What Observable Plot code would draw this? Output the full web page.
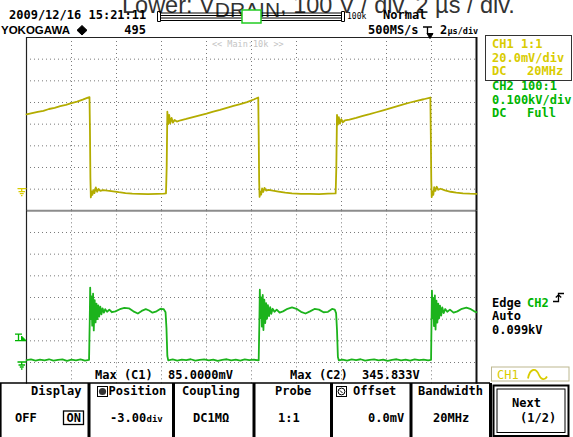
<!DOCTYPE html>
<html><head><meta charset="utf-8">
<script src="https://cdn.jsdelivr.net/npm/d3@7"></script>
<script src="https://cdn.jsdelivr.net/npm/@observablehq/plot@0.6"></script>
<style>
html,body{margin:0;padding:0;background:#fff;}
#wrap{position:relative;width:573px;height:437px;overflow:hidden;background:#fff;}
#wrap svg{position:absolute;left:0;top:0;overflow:visible;}
</style></head><body><div id="wrap"></div>
<script>
// ---------------- data ----------------
const timeGridUs = [2, 4, 6, 8, 10, 12, 14, 16, 18];
const ch1GridMv = [0, 20, 40, 60, 80, 100, 120];
const ch2GridV = [0, 100, 200, 300, 400, 500, 600];
const ch1GroundMv = 0;
const ch2GroundV = 0;
const trigLevelV = 99;

// CH1 (upper trace): [time µs, mV]
const ch1Trace = [
  [0.00,69.0],[0.25,70.2],[0.50,71.4],[0.75,72.3],[1.00,74.0],[1.25,75.1],[1.50,76.6],[1.75,77.8],[2.00,79.5],[2.25,80.8],[2.50,82.6],[2.70,84.2],[2.80,85.0],
  [2.82,55.0],[2.84,10.0],[2.86,-7.6],[2.89,-2.0],[2.93,-5.2],[2.97,-0.8],[3.02,-3.6],[3.08,1.6],[3.14,-2.4],[3.20,0.2],[3.28,-1.6],[3.40,-0.8],[3.60,-1.4],[3.85,-2.0],[4.10,-2.8],[4.40,-3.6],[4.70,-4.2],[5.00,-4.4],[5.40,-4.6],[5.80,-4.3],[6.10,-4.1],[6.20,-3.9],
  [6.23,20.0],[6.26,71.5],[6.30,60.0],[6.34,68.5],[6.39,60.8],[6.45,65.8],[6.51,61.4],[6.58,63.8],[6.68,62.4],[6.85,63.6],[7.10,64.8],[7.40,66.6],[7.70,68.2],[8.00,69.8],[8.30,71.6],[8.60,73.2],[8.90,75.0],[9.20,76.8],[9.50,78.6],[9.80,80.4],[10.10,82.8],[10.30,84.6],
  [10.32,50.0],[10.34,8.0],[10.36,-7.2],[10.39,-2.2],[10.43,-5.0],[10.47,0.6],[10.52,-2.6],[10.58,1.2],[10.65,-1.4],[10.75,-0.6],[10.95,-1.4],[11.20,-2.2],[11.50,-3.2],[11.80,-3.8],[12.20,-4.3],[12.60,-4.4],[13.00,-4.5],[13.40,-4.2],[13.74,-3.9],
  [13.77,20.0],[13.80,68.5],[13.84,59.5],[13.88,66.5],[13.93,60.5],[13.99,64.6],[14.06,61.8],[14.15,63.4],[14.35,64.2],[14.65,65.8],[14.95,67.6],[15.25,69.2],[15.55,71.0],[15.85,72.8],[16.15,74.6],[16.45,76.4],[16.75,78.2],[17.05,80.0],[17.35,81.6],[17.65,83.0],[17.95,84.6],
  [17.97,50.0],[17.99,8.0],[18.01,-7.4],[18.04,-2.0],[18.08,-5.2],[18.12,1.8],[18.17,-1.6],[18.23,2.2],[18.30,-0.6],[18.40,0.4],[18.60,-1.2],[18.85,-2.4],[19.10,-3.2],[19.40,-3.8],[19.70,-4.2],[20.00,-4.4]
];

// CH2 (lower trace, V_DRAIN): [time µs, V]
const ch2Trace = [
  [0.00,11],[0.20,14],[0.40,9],[0.60,13],[0.80,10],[1.00,15],[1.20,9],[1.40,12],[1.60,14],[1.80,8],[2.00,13],[2.20,10],[2.40,14],[2.60,9],[2.78,12],
  [2.81,190],[2.83,345.8],[2.86,200],[2.89,305],[2.92,170],[2.96,318],[2.99,148],[3.03,288],[3.07,185],[3.11,272],[3.15,200],[3.19,264],[3.23,212],[3.28,258],[3.33,222],[3.38,250],[3.44,230],[3.50,246],[3.58,234],[3.68,244],[3.80,232],[3.95,236],[4.15,246],[4.35,252],[4.55,250],[4.75,236],[4.95,226],[5.12,238],[5.30,246],[5.45,240],[5.60,230],[5.78,236],[5.96,248],[6.10,246],[6.18,232],
  [6.22,160],[6.26,30],[6.30,10],
  [6.50,14],[6.70,9],[6.90,13],[7.10,11],[7.30,15],[7.50,9],[7.70,12],[7.90,14],[8.10,10],[8.30,13],[8.50,8],[8.70,12],[8.90,15],[9.10,10],[9.30,13],[9.50,9],[9.70,14],[9.90,11],[10.10,13],[10.32,10],
  [10.35,185],[10.37,336],[10.40,205],[10.43,300],[10.46,166],[10.50,312],[10.53,150],[10.57,290],[10.61,182],[10.65,274],[10.69,202],[10.73,265],[10.78,214],[10.83,256],[10.88,225],[10.94,248],[11.02,234],[11.12,244],[11.25,230],[11.40,236],[11.60,248],[11.80,254],[12.00,248],[12.20,234],[12.40,226],[12.60,236],[12.80,247],[13.00,244],[13.20,232],[13.40,234],[13.58,247],[13.70,244],[13.76,228],
  [13.80,150],[13.84,25],[13.88,10],
  [14.05,13],[14.25,9],[14.45,14],[14.65,11],[14.85,15],[15.05,9],[15.25,12],[15.45,14],[15.65,10],[15.85,13],[16.05,8],[16.25,12],[16.45,15],[16.65,10],[16.85,13],[17.05,9],[17.25,14],[17.45,11],[17.65,13],[17.85,10],[17.98,12],
  [18.00,180],[18.02,332],[18.05,204],[18.08,298],[18.11,168],[18.15,310],[18.18,152],[18.22,286],[18.26,184],[18.30,272],[18.34,204],[18.38,262],[18.43,216],[18.48,254],[18.54,228],[18.61,247],[18.70,234],[18.82,244],[18.98,230],[19.15,236],[19.35,248],[19.55,253],[19.75,246],[19.90,236],[20.00,232]
];

// texts
const titleMain = "Lower: V";
const titleSub = "DRAIN";
const titleRest = ", 100 V / div, 2 µs / div.";
const headerDate = "2009/12/16 15:21:11";
const headerBrand = "YOKOGAWA";
const headerCount = "495";
const headerMode = "Normal";
const headerRate = "500MS/s";
const headerTdiv = ["2", "µs/div"];
const headerRecord = "100k";
const zoomLabel = "<< Main:10k >>";
const ch1Info = ["CH1 1:1", "20.0mV/div", "DC", "20MHz"];
const ch2Info = ["CH2 100:1", "0.100kV/div", "DC", "Full"];
const trigInfo = ["Edge", "CH2", "Auto", "0.099kV"];
const measure = ["Max (C1)", "85.0000mV", "Max (C2)", "345.833V"];
const menuLabels = ["Display", "Position", "Coupling", "Probe", "Offset", "Bandwidth"];
const menuValues = ["OFF", "ON", "-3.00", "div", "DC1MΩ", "1:1", "0.0mV", "20MHz"];
const nextLabel = ["Next", "(1/2)"];

// ---------------- layout ----------------
const W = 573, H = 437, L = 26, R = 476, T = 37, MID = 210.33, B = 383.67;
const YEL_TR = "#b3ac00", GRN_TR = "#1cb31c", YEL_TX = "#d9cc00", GRN_TX = "#00b400";
const MONO = "'DejaVu Sans Mono', monospace";
const SANS = "'Liberation Sans', Arial, sans-serif";
const gridStyle = {stroke: "#7a7a7a", strokeDasharray: "1,3", strokeWidth: 1};

const wrap = document.getElementById("wrap");

const topPlot = Plot.plot({
  width: W, height: H,
  marginLeft: L, marginRight: W - R, marginTop: T, marginBottom: H - MID,
  x: {domain: [0, 20], axis: null},
  y: {domain: [-20, 140], axis: null},
  style: {background: "transparent", overflow: "visible"},
  marks: [
    Plot.ruleX(timeGridUs, gridStyle),
    Plot.ruleY(ch1GridMv, gridStyle),
    Plot.ruleY([-20], {stroke: "#8c8c8c", strokeWidth: 2}),
    Plot.ruleY([140], {stroke: "#222", strokeWidth: 1}),
    Plot.ruleX([0], {stroke: "#222", strokeWidth: 1.2}),
    Plot.ruleX([20], {stroke: "#111", strokeWidth: 2}),
    Plot.line(ch1Trace, {x: d => d[0], y: d => d[1], stroke: YEL_TR, strokeWidth: 1.8})
  ]
});
const botPlot = Plot.plot({
  width: W, height: H,
  marginLeft: L, marginRight: W - R, marginTop: MID, marginBottom: H - B,
  x: {domain: [0, 20], axis: null},
  y: {domain: [-100, 700], axis: null},
  style: {background: "transparent", overflow: "visible"},
  marks: [
    Plot.ruleX(timeGridUs, gridStyle),
    Plot.ruleY(ch2GridV, gridStyle),
    Plot.ruleX([0], {stroke: "#222", strokeWidth: 1.2}),
    Plot.ruleX([20], {stroke: "#111", strokeWidth: 2}),
    Plot.line(ch2Trace, {x: d => d[0], y: d => d[1], stroke: GRN_TR, strokeWidth: 1.8})
  ]
});
wrap.appendChild(topPlot);
wrap.appendChild(botPlot);

// markers anchored on the scales
const y1g = topPlot.scale("y").apply(ch1GroundMv);
const y2g = botPlot.scale("y").apply(ch2GroundV);
const y2t = botPlot.scale("y").apply(trigLevelV);

const ov = d3.select(wrap).append("svg").attr("width", W).attr("height", H);
function txt(x, y, s, o = {}) {
  return ov.append("text").attr("x", x).attr("y", y)
    .attr("font-family", o.ff || MONO).attr("font-size", o.fs || 12)
    .attr("font-weight", o.fw || "bold").attr("fill", o.fill || "#000")
    .attr("text-anchor", o.anchor || "start").text(s);
}
function path(d, stroke, sw = 1, fill = "none") {
  return ov.append("path").attr("d", d).attr("stroke", stroke).attr("stroke-width", sw).attr("fill", fill);
}
function ground(y, c) {
  path(`M17.5,${y}H26.5M21.7,${y}V${y+3}M18.5,${y+3}H25M19.8,${y+5}H23.7M21,${y+7}H22.5`, c, 1.3);
}
ground(y1g, YEL_TX);
ground(y2g, GRN_TX);
// trigger level marker
path(`M15,${y2t}H26M15,${y2t-6.5}H22M18.5,${y2t-6.5}V${y2t}`, GRN_TX, 1.3);
path(`M21.5,${y2t}L26,${y2t}L21.5,${y2t-4.5}Z`, GRN_TX, 1, GRN_TX);

// title (partly cut off at the top)
const title = ov.append("text").attr("x", 122).attr("y", 12.5)
  .attr("font-family", SANS).attr("font-size", 23.5).attr("fill", "#333");
title.append("tspan").text(titleMain);
title.append("tspan").attr("font-size", 21).attr("dy", 4).text(titleSub);
title.append("tspan").attr("dy", -4).text(titleRest);

// header
txt(9, 18.5, headerDate);
txt(1, 34, headerBrand, {ff: SANS, fs: 11.5});
path("M82,25.5L87,30.3L82,35L77,30.3Z", "#000", 1, "#000");
txt(146, 34, headerCount, {anchor: "end"});
// record bar
path("M157.5,11.5h3v10h-3ZM341.5,11.5h3v10h-3Z", "#000", 1);
path("M160.5,13H341.5M160.5,15.5H341.5M160.5,18H341.5M160.5,20.5H341.5", "#000", 1);
ov.append("rect").attr("x", 242).attr("y", 10).attr("width", 19).attr("height", 13)
  .attr("fill", "#fff").attr("stroke", "#22cc22").attr("stroke-width", 1.5);
txt(347, 19, headerRecord, {fs: 8, fw: "normal"});
txt(383, 19, headerMode);
txt(368, 34, headerRate);
path("M423,27H432M427.5,27V34", "#000", 1.3);
path("M427,33.5L433,33.5L430,38.5Z", "#000", 1, "#000");
txt(440, 34, headerTdiv[0]);
txt(447.5, 34, headerTdiv[1], {fs: 8.5});
txt(212, 47, zoomLabel, {fs: 8.5, fw: "normal", fill: "#c4c4c4"});

// right panel
ov.append("rect").attr("x", 485.5).attr("y", 35.5).attr("width", 86).attr("height", 45)
  .attr("fill", "none").attr("stroke", "#333").attr("stroke-width", 1);
txt(492, 47.5, ch1Info[0], {fill: YEL_TX});
txt(492, 61.5, ch1Info[1], {fill: YEL_TX});
txt(492, 75, ch1Info[2], {fill: YEL_TX});
txt(527, 75, ch1Info[3], {fill: YEL_TX});
txt(492, 90, ch2Info[0], {fill: GRN_TX});
txt(492, 103.5, ch2Info[1], {fill: GRN_TX});
txt(492, 117, ch2Info[2], {fill: GRN_TX});
txt(527, 117, ch2Info[3], {fill: GRN_TX});

txt(492, 306.5, trigInfo[0]);
txt(527, 306.5, trigInfo[1], {fill: GRN_TX});
path("M553,301.5H558.5V293.5H564M555.8,297.5L558.5,294.8L561.2,297.5", "#000", 1.3);
txt(492, 320, trigInfo[2]);
txt(492, 333.5, trigInfo[3]);

ov.append("rect").attr("x", 491.5).attr("y", 367).attr("width", 77.5).attr("height", 14)
  .attr("fill", "none").attr("stroke", "#bdb890").attr("stroke-width", 1);
txt(497, 378.5, "CH1", {fill: YEL_TX, fw: "normal"});
path("M528,378.5C530,368 536,367.5 539,375C541,380 545,380.5 547,376.5", YEL_TX, 1.8);

// measurements
txt(95, 379, measure[0]);
txt(168, 379, measure[1]);
txt(290, 379, measure[2]);
txt(362, 379, measure[3]);

// soft-key menu
path("M0,383H490", "#000", 1.5);
path("M0.8,383V437", "#000", 1.6);
[87.5, 172, 252.5, 330, 409.5, 489].forEach(x =>
  ov.append("rect").attr("x", x).attr("y", 383).attr("width", 3).attr("height", 54).attr("fill", "#000"));
const labelX = [31, 108.5, 182, 275, 353, 418];
menuLabels.forEach((s, i) => txt(labelX[i], 394.5, s));
// knob icons
ov.append("rect").attr("x", 97.5).attr("y", 386.5).attr("width", 10).attr("height", 10)
  .attr("fill", "none").attr("stroke", "#000").attr("stroke-width", 1);
ov.append("circle").attr("cx", 102.5).attr("cy", 391.5).attr("r", 3.6).attr("fill", "#333");
ov.append("rect").attr("x", 336.5).attr("y", 386.5).attr("width", 10).attr("height", 10)
  .attr("fill", "none").attr("stroke", "#000").attr("stroke-width", 1);
ov.append("circle").attr("cx", 341.5).attr("cy", 391.5).attr("r", 3.4).attr("fill", "none").attr("stroke", "#000");
path("M340,390.5L342.5,393", "#000", 1);

txt(15, 421.5, menuValues[0]);
ov.append("rect").attr("x", 63.5).attr("y", 411).attr("width", 20).attr("height", 13.5)
  .attr("fill", "none").attr("stroke", "#000").attr("stroke-width", 1.3);
txt(66.5, 421.5, menuValues[1]);
txt(110, 421.5, menuValues[2]);
txt(146.5, 421.5, menuValues[3], {fs: 9});
txt(193, 421.5, menuValues[4]);
txt(278, 421.5, menuValues[5]);
txt(368, 421.5, menuValues[6]);
txt(433, 421.5, menuValues[7]);

ov.append("rect").attr("x", 493.5).attr("y", 385.5).attr("width", 75).attr("height", 50.5)
  .attr("fill", "none").attr("stroke", "#000").attr("stroke-width", 2);
ov.append("rect").attr("x", 497).attr("y", 389).attr("width", 68).attr("height", 43.5)
  .attr("fill", "none").attr("stroke", "#000").attr("stroke-width", 1);
txt(512, 407, nextLabel[0]);
txt(520, 422, nextLabel[1]);
</script></body></html>
